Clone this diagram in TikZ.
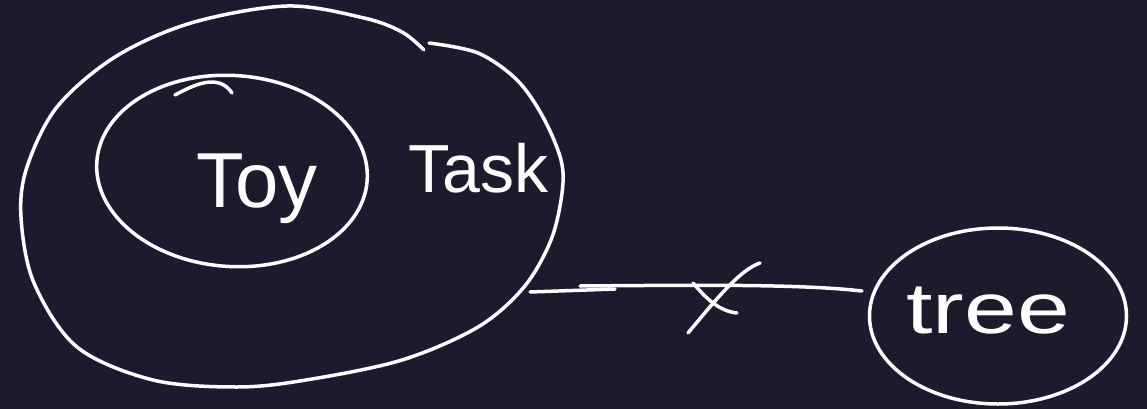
\documentclass[tikz,border=0pt]{standalone}
\usepackage{fontspec}
\setmainfont{Liberation Sans}
\usetikzlibrary{shapes.geometric}
\definecolor{bg}{RGB}{30,26,46}
\tikzset{
  sketch/.style={draw=white, line width=3.5pt, line cap=round, line join=round},
  label/.style={text=white, inner sep=0pt},
  ringshape/.style={sketch, ellipse, inner sep=0pt},
}
\begin{document}
\begin{tikzpicture}[x=1pt,y=-1pt]
\fill[bg] (0,0) rectangle (1147,409);
\useasboundingbox (0,0) rectangle (1147,409);
% outer "Task" outline (hand-drawn, with a small gap at top right)
\draw[sketch] plot[smooth, tension=0.55] coordinates {
 (429,43) (478,53) (517,80) (543,117) (561,160) (562,193) (551,240)
 (524,287) (478,327) (402,360) (306,380) (237,387) (153,380) (77,347)
 (34,283) (21,217) (27,167) (57,107) (115,57) (191,23) (287,6)
 (364,18) (402,32) (424,50)};
% inner "Toy" ellipse
\node[ringshape, minimum width=271pt, minimum height=191pt, rotate=-4] (toy) at (232,171) {};
\draw[sketch] (175,95) .. controls (192,86) and (218,72) .. (232,93);
% tree ellipse
\node[ringshape, minimum width=257pt, minimum height=176pt] (tree) at (998,316) {};
% labels
\node[label, anchor=base west, font=\fontsize{78}{82}\selectfont] (toytxt) at (196,207) {Toy};
\node[label, anchor=base west, font=\fontsize{68}{72}\selectfont] (tasktxt) at (408,192) {Task};
\node[label, anchor=base west, font=\fontsize{72}{76}\selectfont] (treetxt) at (906,333) {\scalebox{1.32}[1]{tree}};
% connector with cross
\coordinate (lineL) at (530,292);
\coordinate (lineLb) at (615,289);
\coordinate (lineM) at (580,286);
\coordinate (lineR) at (862,291);
\coordinate (xa) at (688,333);
\coordinate (xb) at (760,263);
\coordinate (xc) at (693,283);
\coordinate (xd) at (737,313);
\draw[sketch] (lineL) -- (lineLb);
\draw[sketch] (lineM) .. controls (700,285) and (800,284) .. (lineR);
\draw[sketch] (xa) .. controls (718,297) and (740,270) .. (xb);
\draw[sketch] (xc) .. controls (705,297) and (718,311) .. (xd);
\end{tikzpicture}
\end{document}
